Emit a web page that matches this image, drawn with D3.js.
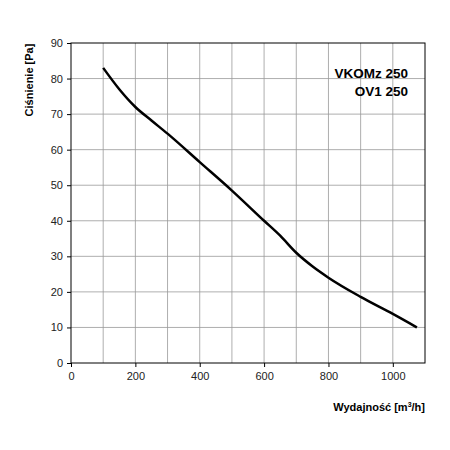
<!DOCTYPE html><html><head><meta charset="utf-8"><script src="https://cdn.jsdelivr.net/npm/d3@7"></script>
<style>body{margin:0;background:#fff}</style></head><body><svg id="c" width="450" height="450"></svg>
<script>
const flow=[100,150,200,250,300,400,500,600,650,700,750,800,900,1000,1075];
const pressure=[83,77,72,68.2,64.5,56.5,48.5,40,35.8,31,27.2,24,18.6,13.8,10];
const xTicks=[0,200,400,600,800,1000];
const yTicks=[0,10,20,30,40,50,60,70,80,90];
const svg=d3.select("#c"),font="Liberation Sans, Arial, sans-serif";
const x=d3.scaleLinear().domain([0,1100]).range([71,425]);
const y=d3.scaleLinear().domain([0,90]).range([363,43]);
const g=svg.append("g");
g.selectAll(".vx").data(d3.range(100,1100,100)).enter().append("line").attr("x1",d=>x(d)).attr("x2",d=>x(d)).attr("y1",y(0)).attr("y2",y(90)).attr("stroke","#999").attr("stroke-width",0.8);
g.selectAll(".hy").data(d3.range(10,90,10)).enter().append("line").attr("y1",d=>y(d)).attr("y2",d=>y(d)).attr("x1",x(0)).attr("x2",x(1100)).attr("stroke","#999").attr("stroke-width",0.8);
g.append("rect").attr("x",x(0)).attr("y",y(90)).attr("width",x(1100)-x(0)).attr("height",y(0)-y(90)).attr("fill","none").attr("stroke","#000").attr("stroke-width",1);
const xa=svg.append("g").attr("transform",`translate(0,${y(0)})`).call(d3.axisBottom(x).tickValues(xTicks).tickFormat(d3.format("d")).tickSize(4).tickPadding(5));
const ya=svg.append("g").attr("transform",`translate(${x(0)},0)`).call(d3.axisLeft(y).tickValues(yTicks).tickSize(4).tickPadding(4));
[xa,ya].forEach(a=>{a.select(".domain").remove();a.selectAll("text").attr("font-family",font).attr("font-size",11).attr("fill","#222");});
svg.append("path").datum(flow.map((f,i)=>[f,pressure[i]])).attr("d",d3.line().x(d=>x(d[0])).y(d=>y(d[1])).curve(d3.curveMonotoneX)).attr("fill","none").attr("stroke","#000").attr("stroke-width",2.5);
svg.append("text").attr("x",408).attr("y",78).attr("text-anchor","end").attr("font-family",font).attr("font-weight","bold").attr("font-size",13.5).text("VKOMz 250");
svg.append("text").attr("x",408).attr("y",96).attr("text-anchor","end").attr("font-family",font).attr("font-weight","bold").attr("font-size",13.5).text("OV1 250");
const xl=svg.append("text").attr("x",425).attr("y",411).attr("text-anchor","end").attr("font-family",font).attr("font-weight","bold").attr("font-size",11);
xl.append("tspan").text("Wydajność [m");xl.append("tspan").attr("dy",-4).attr("font-size",7).text("3");xl.append("tspan").attr("dy",4).text("/h]");
svg.append("text").attr("transform","translate(33,80) rotate(-90)").attr("text-anchor","middle").attr("font-family",font).attr("font-weight","bold").attr("font-size",11).text("Ciśnienie [Pa]");
</script></body></html>
